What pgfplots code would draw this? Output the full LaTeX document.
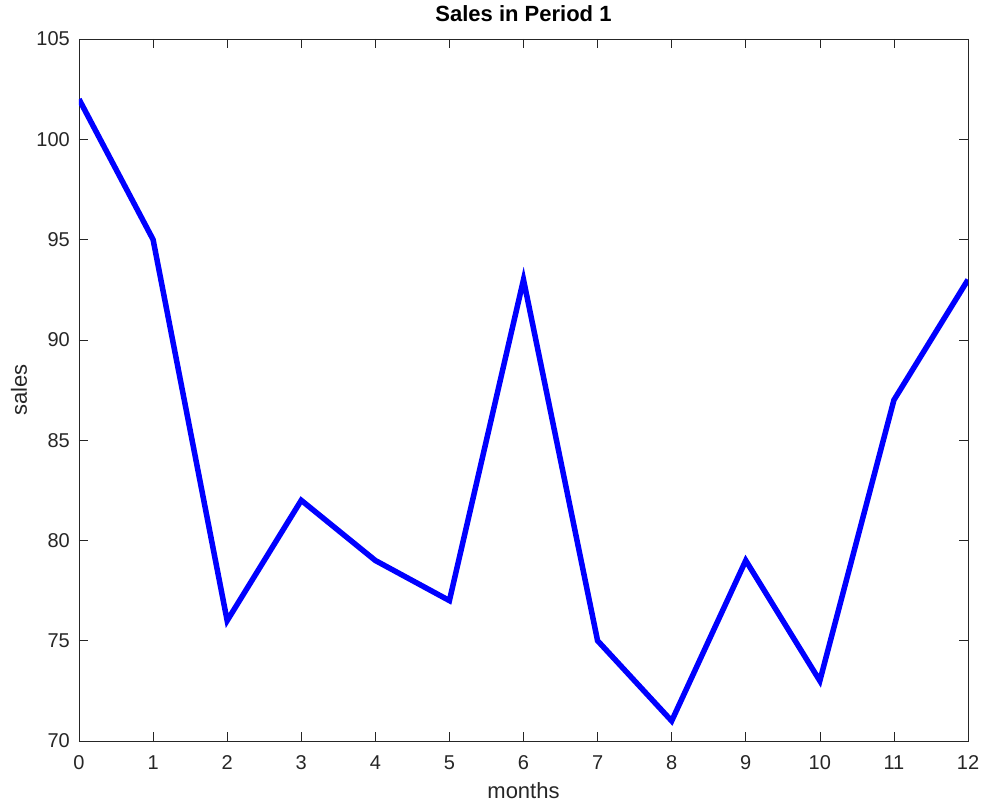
\documentclass[border=0pt]{standalone}
\usepackage{fontspec}
\setmainfont{Liberation Sans}
\usepackage{pgfplots}
\pgfplotsset{compat=1.18}
\definecolor{axgray}{gray}{0.15}
\begin{document}
\begin{tikzpicture}[x=1bp,y=1bp]
\useasboundingbox (-79bp,-62bp) rectangle (905bp,741bp);
\begin{axis}[
  at={(0,0)}, anchor=south west,
  scale only axis,
  width=889bp, height=702bp,
  xmin=0, xmax=12, ymin=70, ymax=105,
  xtick={0,...,12}, ytick={70,75,...,105},
  tick align=inside,
  major tick length=9bp,
  axis line style={axgray, line width=0.6bp},
  every tick/.style={axgray, line width=0.6bp},
  tick label style={font=\fontsize{20bp}{22bp}\selectfont, text=axgray, inner sep=0pt},
  xticklabel style={anchor=center, yshift=-21.5bp},
  yticklabel style={anchor=east, xshift=-9bp},
  /pgf/number format/assume math mode=true,
  xlabel={months}, ylabel={sales},
  label style={font=\fontsize{22bp}{24bp}\selectfont, text=axgray, inner sep=0pt},
  xlabel style={at={(axis description cs:0.5,0)}, anchor=center, yshift=-50bp},
  ylabel style={at={(axis description cs:0,0.5)}, anchor=center, yshift=60bp},
  title={\bfseries Sales in Period 1},
  title style={font=\fontsize{22bp}{24bp}\selectfont, at={(axis description cs:0.5,1)}, anchor=center, inner sep=0pt, yshift=19bp},
]
\addplot[color={rgb,255:red,0;green,0;blue,255}, line width=5.5bp, line join=miter] coordinates {
(0,102) (1,95) (2,76) (3,82) (4,79) (5,77) (6,93) (7,75) (8,71) (9,79) (10,73) (11,87) (12,93)
};
\end{axis}
\end{tikzpicture}
\end{document}
